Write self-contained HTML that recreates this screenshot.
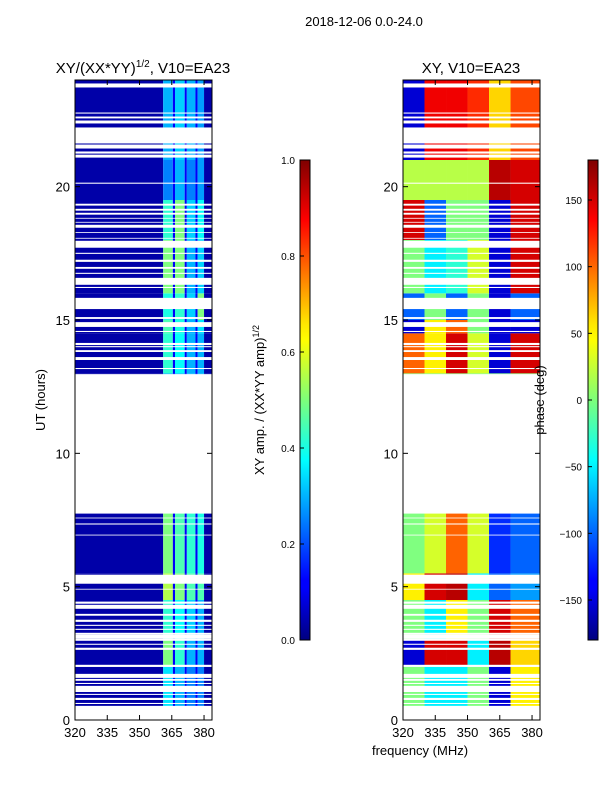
<!DOCTYPE html>
<html><head><meta charset="utf-8"><style>
body{margin:0;background:#fff;}
svg{display:block;font-family:"Liberation Sans",sans-serif;}
</style></head><body>
<svg id="chart" width="600" height="800">
<defs>
<linearGradient id="jet" x1="0" y1="1" x2="0" y2="0">
<stop offset="0" stop-color="#00007f"/><stop offset="0.11" stop-color="#0000ff"/>
<stop offset="0.125" stop-color="#0000ff"/><stop offset="0.34" stop-color="#00dcff"/>
<stop offset="0.375" stop-color="#00ffff"/><stop offset="0.5" stop-color="#7dff7a"/>
<stop offset="0.625" stop-color="#ffff00"/><stop offset="0.66" stop-color="#ffe600"/>
<stop offset="0.875" stop-color="#ff0000"/><stop offset="1" stop-color="#7f0000"/>
</linearGradient>
</defs>
<text x="364" y="26" font-size="13" text-anchor="middle">2018-12-06 0.0-24.0</text>
<text x="143" y="73" font-size="15" text-anchor="middle">XY/(XX*YY)<tspan font-size="10" dy="-6">1/2</tspan><tspan dy="6">, V10=EA23</tspan></text>
<text x="471" y="73" font-size="15" text-anchor="middle">XY, V10=EA23</text>
<g id="left"></g>
<g id="right"></g>
<g id="axes"></g>
<text transform="translate(45,400) rotate(-90)" font-size="13" text-anchor="middle">UT (hours)</text>
<text x="420" y="755" font-size="13" text-anchor="middle">frequency (MHz)</text>
<rect x="300" y="160" width="10" height="480" fill="url(#jet)" stroke="#000" stroke-width="1"/>
<rect x="588" y="160" width="10" height="480" fill="url(#jet)" stroke="#000" stroke-width="1"/>
<text transform="translate(264,400) rotate(-90)" font-size="13" text-anchor="middle">XY amp. / (XX*YY amp)<tspan font-size="9" dy="-5">1/2</tspan></text>
<text transform="translate(544,400) rotate(-90)" font-size="13" text-anchor="middle">phase (deg)</text>
<g id="cb"></g>
</svg>
<script>
const timeEdges=[0,2,3,4.5,5.5,8,13,14.5,15,16,18,19.5,21,24];
const ampBands=[[0.35,0.3,0.25,0.25],[0.5,0.42,0.3,0.3],[0.42,0.38,0.33,0.3],[0.55,0.5,0.45,0.45],[0.5,0.45,0.42,0.4],[0.3,0.3,0.3,0.3],[0.42,0.38,0.3,0.3],[0.45,0.4,0.3,0.35],[0.4,0.42,0.33,0.5],[0.5,0.5,0.3,0.33],[0.42,0.5,0.33,0.38],[0.25,0.3,0.25,0.28],[0.3,0.33,0.3,0.28]];
const ampDark=0.04, ampSep=0.12;
const ampEdges=[320,361,365.5,366.5,371,372,376,377,380,383.7];
const phaseEdges=[320,330,340,350,360,370,383.7];
const phase=[[0,-50,-50,0,-150,50],[-150,150,150,-50,160,60],[0,-50,50,0,150,100],[50,150,160,-50,-100,-80],[0,30,100,30,-120,-100],[0,0,0,0,0,0],[100,50,150,30,-150,150],[-150,50,100,0,-150,-150],[-100,0,-100,0,-150,-100],[0,-50,-30,30,-150,150],[150,-100,0,0,-150,150],[20,20,20,20,160,150],[-150,140,140,120,60,110]];
const gaps=[[23.72,23.87],[22.74,22.78],[22.56,22.63],[22.37,22.48],[21.62,22.22],[21.43,21.58],[21.24,21.32],[21.09,21.2],[20.11,20.15],[19.29,19.36],[19.1,19.17],[18.95,19.02],[18.8,18.83],[18.65,18.68],[18.46,18.57],[18.27,18.3],[18.05,18.08],[17.71,17.97],[17.48,17.52],[17.18,17.26],[16.92,16.99],[16.73,16.77],[16.32,16.58],[16.2,16.24],[15.41,15.83],[15.04,15.11],[14.74,14.92],[14.55,14.59],[14.06,14.14],[13.98,14.02],[13.8,13.87],[13.5,13.61],[13.16,13.2],[7.74,12.97],[7.56,7.59],[7.33,7.37],[6.92,6.95],[5.11,5.45],[4.89,4.92],[4.36,4.44],[4.17,4.32],[3.91,3.98],[3.68,3.76],[3.53,3.57],[3.38,3.42],[3.2,3.27],[3.05,3.2],[2.97,3.05],[2.82,2.86],[2.63,2.71],[1.99,2.07],[1.58,1.73],[1.47,1.54],[1.35,1.39],[1.2,1.28],[1.05,1.2],[0.94,0.98],[0.75,0.83],[0.6,0.64],[0.45,0.53],[0,0.45]];
const xTicks=[320,335,350,365,380];
const yTicks=[0,5,10,15,20];
const ampTicks=[0,0.2,0.4,0.6,0.8,1.0];
const phaseTicks=[-150,-100,-50,0,50,100,150];

const NS="http://www.w3.org/2000/svg";
const F0=320,F1=383.7,T0=0,T1=24,PY0=720,PY1=80;
const panels={left:75,right:403};const PW=137;
function xS(f,x0){return x0+(f-F0)/(F1-F0)*PW;}
function yS(t){return PY0-(t-T0)/(T1-T0)*(PY0-PY1);}
function jet(v){v=Math.max(0,Math.min(1,v));const c=a=>Math.round(255*Math.max(0,Math.min(1,1.5-Math.abs(4*v-a))));return `rgb(${c(3)},${c(2)},${c(1)})`;}
function mk(tag,attrs,parent){const e=document.createElementNS(NS,tag);for(const k in attrs)e.setAttribute(k,attrs[k]);parent.appendChild(e);return e;}
function ampVal(i,j){if(j===0||j===8)return ampDark;if(j%2===0)return ampSep;return ampBands[i][(j-1)/2];}
const L=document.getElementById('left'),R=document.getElementById('right');
for(let i=0;i<timeEdges.length-1;i++){
  const y0=yS(timeEdges[i+1]),y1=yS(timeEdges[i]);
  for(let j=0;j<ampEdges.length-1;j++){
    const xa=xS(ampEdges[j],panels.left),xb=xS(ampEdges[j+1],panels.left);
    const r=mk('rect',{x:xa,y:y0,width:xb-xa,height:y1-y0,fill:jet(ampVal(i,j))},L);
    
    
  }
  for(let j=0;j<phaseEdges.length-1;j++){
    const xa=xS(phaseEdges[j],panels.right),xb=xS(phaseEdges[j+1],panels.right);
    const r=mk('rect',{x:xa,y:y0,width:xb-xa,height:y1-y0,fill:jet((phase[i][j]+180)/360)},R);
    
    
  }
}
for(const g of gaps){for(const k in panels){
  const r=mk('rect',{x:panels[k],y:yS(g[1]),width:PW,height:yS(g[0])-yS(g[1]),fill:'#fff'},k==='left'?L:R);
  
  
}}
const A=document.getElementById('axes');
for(const k in panels){
  const x0=panels[k];
  const fr=mk('rect',{x:x0,y:PY1,width:PW,height:PY0-PY1,fill:'none',stroke:'#000','stroke-width':1},A);
  
  
  for(const f of xTicks){const x=xS(f,x0);
    mk('line',{x1:x,y1:PY0,x2:x,y2:PY0-5,stroke:'#000'},A);mk('line',{x1:x,y1:PY1,x2:x,y2:PY1+5,stroke:'#000'},A);
    const t=mk('text',{x:x,y:PY0+17,'font-size':13,'text-anchor':'middle'},A);t.textContent=f;
    
    }
  for(const h of yTicks){const y=yS(h);
    mk('line',{x1:x0,y1:y,x2:x0+5,y2:y,stroke:'#000'},A);mk('line',{x1:x0+PW,y1:y,x2:x0+PW-5,y2:y,stroke:'#000'},A);
    const t=mk('text',{x:x0-5,y:y+5,'font-size':13,'text-anchor':'end'},A);t.textContent=h;
    
    }
}
const C=document.getElementById('cb');
for(const v of ampTicks){const y=640-v*480;
  mk('line',{x1:300,y1:y,x2:304,y2:y,stroke:'#000'},C);
  const t=mk('text',{x:295,y:y+4,'font-size':10,'text-anchor':'end'},C);t.textContent=v.toFixed(1);
  
  }
for(const v of phaseTicks){const y=400-v*480/360;
  mk('line',{x1:588,y1:y,x2:592,y2:y,stroke:'#000'},C);
  const t=mk('text',{x:582,y:y+4,'font-size':10,'text-anchor':'end'},C);t.textContent=v<0?'\u2212'+(-v):v;
  
  }
</script>
</body></html>
